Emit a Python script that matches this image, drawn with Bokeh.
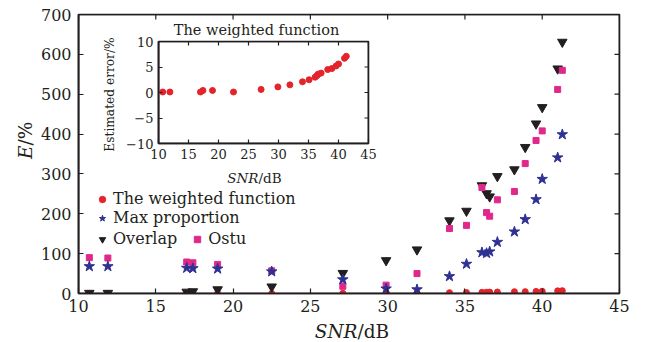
import math
from bokeh.plotting import figure
from bokeh.models import Label, Legend, LegendItem, FixedTicker, Range1d, BoxAnnotation
from bokeh.layouts import column
from bokeh.embed import file_html
from bokeh.resources import INLINE

# ---------------- data ----------------
snr = [10.7, 11.9, 17.0, 17.4, 19.0, 22.5, 27.1, 29.9, 31.9, 34.0, 35.1,
       36.1, 36.4, 36.6, 37.1, 38.2, 38.9, 39.6, 40.0, 41.0, 41.3]
weighted = [0.1, 0.1, 0.1, 0.4, 0.4, 0.1, 0.6, 1.1, 1.5, 2.1, 2.5,
            3.0, 3.3, 3.6, 3.8, 4.5, 4.7, 5.2, 5.6, 6.7, 7.1]
max_prop = [68, 68, 64, 63, 62, 55, 35, 12, 10, 43, 74,
            103, 101, 105, 129, 155, 186, 236, 287, 341, 399]
overlap = [1, 1, 4, 5, 10, 17, 51, 83, 110, 183, 207,
           271, 251, 243, 294, 311, 367, 426, 467, 564, 631]
ostu = [90, 89, 79, 77, 73, 57, 18, 21, 50, 163, 171,
        266, 203, 194, 235, 256, 326, 384, 408, 512, 560]

main_x_ticks = [10, 15, 20, 25, 30, 35, 40, 45]
main_y_ticks = [0, 100, 200, 300, 400, 500, 600, 700]
inset_x_ticks = [10, 15, 20, 25, 30, 35, 40, 45]
inset_y_ticks = [-10, -5, 0, 5, 10]
inset_y_labels = {-10: "\u221210", -5: "\u22125", 0: "0", 5: "5", 10: "10"}

# ---------------- styles ----------------
FONT = "DejaVu Serif"
INK = "#231f20"
RED = "#e3242b"
BLUE = "#2e3192"
BLACK = "#231f20"
PINK = "#e0288c"


def style_axis(ax, ticks, size, tick_len, standoff=6, overrides=None):
    ax.ticker = FixedTicker(ticks=ticks)
    ax.major_tick_in = tick_len
    ax.major_tick_out = 0
    ax.minor_tick_line_color = None
    ax.axis_line_color = INK
    ax.axis_line_width = 1.6
    ax.major_tick_line_color = INK
    ax.major_tick_line_width = 1.2
    ax.major_label_text_font = FONT
    ax.major_label_text_font_size = size
    ax.major_label_text_color = INK
    ax.major_label_standoff = standoff
    if overrides:
        ax.major_label_overrides = overrides


def frame_and_mirror_ticks(fig, xticks, yticks, tick_len):
    # frame border
    fig.add_layout(BoxAnnotation(fill_alpha=0, line_color=INK, line_width=1.6,
                                 line_alpha=1))
    # mirrored inward ticks on top and right edges (clipped to the frame)
    xr, yr = fig.x_range, fig.y_range
    fig.scatter(xticks, [yr.end] * len(xticks), marker="dash", angle=math.pi / 2,
                size=2 * tick_len, line_color=INK, line_width=1.2)
    fig.scatter([xr.end] * len(yticks), yticks, marker="dash",
                size=2 * tick_len, line_color=INK, line_width=1.2)


def add_text(fig, x, y, text, size, italic=False, align="left",
             baseline="alphabetic", angle=0.0):
    fig.add_layout(Label(x=x, y=y, text=text, text_font=FONT,
                         text_font_size=size,
                         text_font_style="italic" if italic else "normal",
                         text_color=INK, text_align=align,
                         text_baseline=baseline, angle=angle))


# ---------------- main figure ----------------
main = figure(width=648, height=342, output_backend="svg", toolbar_location=None,
              x_range=Range1d(10, 45), y_range=Range1d(0, 700),
              min_border_left=78, min_border_right=29,
              min_border_top=14, min_border_bottom=49)
main.grid.visible = False
main.outline_line_color = INK
main.outline_line_width = 1.6
main.background_fill_color = "white"
main.border_fill_color = "white"

style_axis(main.xaxis[0], main_x_ticks, "16px", 5, standoff=6)
style_axis(main.yaxis[0], main_y_ticks, "16px", 5, standoff=7)
frame_and_mirror_ticks(main, main_x_ticks, main_y_ticks, 5)

r_w = main.scatter(snr, weighted, marker="circle", size=6,
                   fill_color=RED, line_color=RED)
r_o = main.scatter(snr, overlap, marker="inverted_triangle", size=9.5,
                   fill_color=BLACK, line_color=BLACK)
r_s = main.scatter(snr, ostu, marker="square", size=6,
                   fill_color=PINK, line_color=PINK)
r_m = main.scatter(snr, max_prop, marker="star", size=11,
                   fill_color=BLUE, line_color=BLUE)


def make_legend(items, loc, orientation):
    return Legend(items=items, location=loc, orientation=orientation,
                  border_line_color=None, background_fill_alpha=0,
                  padding=0, margin=0, glyph_width=20, glyph_height=16,
                  label_height=16, label_standoff=1, spacing=0,
                  label_text_font=FONT, label_text_font_size="16px",
                  label_text_color=INK)


leg1 = make_legend([LegendItem(label="The weighted function", renderers=[r_w]),
                    LegendItem(label="Max proportion", renderers=[r_m])],
                   (14, 66), "vertical")
leg2 = make_legend([LegendItem(label="Overlap", renderers=[r_o]),
                    LegendItem(label="Ostu", renderers=[r_s])],
                   (14, 45), "horizontal")
leg2.spacing = 10
main.add_layout(leg1)
main.add_layout(leg2)

# ---------------- inset figure ----------------
# (plots in a column share left/right borders: 78 / 29 px)
inset = figure(width=317, height=165, output_backend="svg", toolbar_location=None,
               x_range=Range1d(10, 45), y_range=Range1d(-10, 10),
               min_border_left=78, min_border_right=29,
               min_border_top=21, min_border_bottom=42)
inset.grid.visible = False
inset.outline_line_color = INK
inset.outline_line_width = 1.6
inset.background_fill_color = "white"
inset.border_fill_color = None
inset.styles = {"position": "absolute", "left": "80px", "top": "20px",
                "width": "317px", "height": "165px"}

style_axis(inset.xaxis[0], inset_x_ticks, "13px", 4, standoff=5)
style_axis(inset.yaxis[0], inset_y_ticks, "13px", 4, standoff=5,
           overrides=inset_y_labels)
frame_and_mirror_ticks(inset, inset_x_ticks, inset_y_ticks, 4)

inset.scatter(snr, weighted, marker="circle", size=6,
              fill_color=RED, line_color=RED)

# ---------------- text layer (page pixel coordinates, y down) ----------------
# shifted left by the shared 78 px border so its frame starts at page x = 0
txt = figure(width=648, height=342, output_backend="svg", toolbar_location=None,
             x_range=Range1d(0, 541), y_range=Range1d(342, 0), title=None,
             min_border=0)
txt.axis.visible = False
txt.grid.visible = False
txt.outline_line_color = None
txt.background_fill_alpha = 0
txt.border_fill_alpha = 0
txt.styles = {"position": "absolute", "left": "-78px", "top": "0px",
              "width": "648px", "height": "342px", "pointer-events": "none"}

# main axis titles
add_text(txt, 357, 331, "SNR", "18.5px", italic=True, align="right")
add_text(txt, 357, 331, "/dB", "18.5px", align="left")
add_text(txt, 25, 145, "E", "18.5px", italic=True, align="right",
         baseline="middle", angle=math.pi / 2)
add_text(txt, 25, 145, "/%", "18.5px", align="left",
         baseline="middle", angle=math.pi / 2)
# inset texts
add_text(txt, 256, 29, "The weighted function", "14.5px", align="center",
         baseline="middle")
add_text(txt, 109, 94, "Estimated error/%", "12.2px", align="center",
         baseline="middle", angle=math.pi / 2)
add_text(txt, 258, 177, "SNR", "13.5px", italic=True, align="right")
add_text(txt, 258, 177, "/dB", "13.5px", align="left")

p = column(main, inset, txt)
p.styles = {"position": "relative", "overflow": "hidden"}

open("out.html", "w").write(file_html(p, INLINE))
